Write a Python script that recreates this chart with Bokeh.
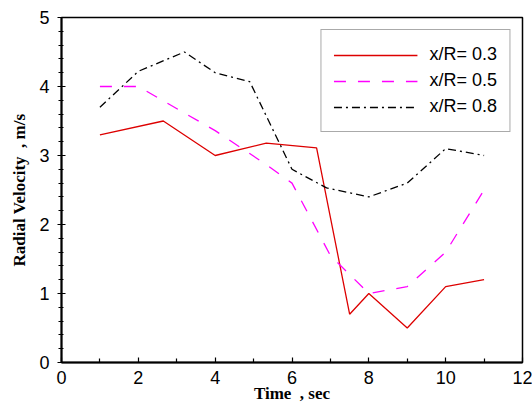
from bokeh.plotting import figure
from bokeh.models import FixedTicker, Legend, LegendItem
from bokeh.embed import file_html
from bokeh.resources import INLINE

# radial velocity vs time at three radial positions
time_03 = [1, 2.65, 4, 5.33, 6.64, 7.5, 8, 9, 10, 11]
vel_03 = [3.3, 3.5, 3.0, 3.18, 3.11, 0.7, 1.0, 0.5, 1.1, 1.2]

time_05 = [1, 2, 4, 5.3, 6, 7, 8, 9, 10, 11]
vel_05 = [4.0, 4.0, 3.36, 2.88, 2.6, 1.55, 1.0, 1.1, 1.6, 2.5]

time_08 = [1, 2, 3.2, 4, 4.9, 6, 6.9, 8, 9, 10, 11]
vel_08 = [3.7, 4.22, 4.5, 4.2, 4.07, 2.8, 2.53, 2.4, 2.6, 3.1, 3.0]

x_ticks = [0, 2, 4, 6, 8, 10, 12]
y_ticks = [0, 1, 2, 3, 4, 5]

p = figure(width=532, height=405, x_range=(0, 12), y_range=(0, 5),
           output_backend="svg", toolbar_location=None,
           min_border_left=61, min_border_right=10,
           min_border_top=17, min_border_bottom=42)
p.grid.visible = False
p.outline_line_color = "black"
p.outline_line_width = 1.5

r1 = p.line(time_03, vel_03, color="#dd0000", line_width=1.3)
r2 = p.line(time_05, vel_05, color="#ff00ff", line_width=1.3, line_dash="12 12")
r3 = p.line(time_08, vel_08, color="black", line_width=1.3, line_dash="8 4 2 4")

p.xaxis.ticker = FixedTicker(ticks=x_ticks, minor_ticks=[1, 3, 5, 7, 9, 11])
p.yaxis.ticker = FixedTicker(ticks=y_ticks,
                             minor_ticks=[i / 5 for i in range(26) if i % 5])

for ax in (p.xaxis[0], p.yaxis[0]):
    ax.axis_line_width = 2
    ax.axis_line_color = "black"
    ax.major_tick_line_color = "black"
    ax.minor_tick_line_color = "black"
    ax.major_tick_line_width = 1.2
    ax.minor_tick_line_width = 1.2
    ax.major_label_text_font = "Liberation Sans"
    ax.major_label_text_font_size = "18px"
    ax.major_label_text_color = "black"
    ax.axis_label_text_font = "Liberation Serif"
    ax.axis_label_text_font_style = "bold"
    ax.axis_label_text_font_size = "17px"
    ax.axis_label_text_color = "black"

p.xaxis.axis_label = "Time\u00a0 , sec"
p.xaxis.major_tick_in = 5
p.xaxis.major_tick_out = 0
p.xaxis.minor_tick_in = 4
p.xaxis.minor_tick_out = 0
p.xaxis.major_label_standoff = 8
p.xaxis.axis_label_standoff = -3

p.yaxis.axis_label = "Radial Velocity\u00a0 , m/s"
p.yaxis.major_tick_in = 4
p.yaxis.major_tick_out = 4
p.yaxis.minor_tick_in = 2
p.yaxis.minor_tick_out = 3
p.yaxis.major_label_standoff = 8
p.yaxis.axis_label_standoff = 7

legend = Legend(items=[LegendItem(label="x/R= 0.3", renderers=[r1]),
                       LegendItem(label="x/R= 0.5", renderers=[r2]),
                       LegendItem(label="x/R= 0.8", renderers=[r3])],
                location="top_right")
legend.margin = 12
legend.border_line_color = "#555555"
legend.border_line_width = 1.5
legend.padding = 12
legend.spacing = 1
legend.label_height = 25
legend.glyph_height = 20
legend.glyph_width = 84
legend.label_standoff = 12
legend.label_text_font = "Liberation Sans"
legend.label_text_font_size = "18px"
legend.label_text_color = "black"
legend.background_fill_alpha = 1
p.add_layout(legend)

open("out.html", "w").write(file_html(p, INLINE))
